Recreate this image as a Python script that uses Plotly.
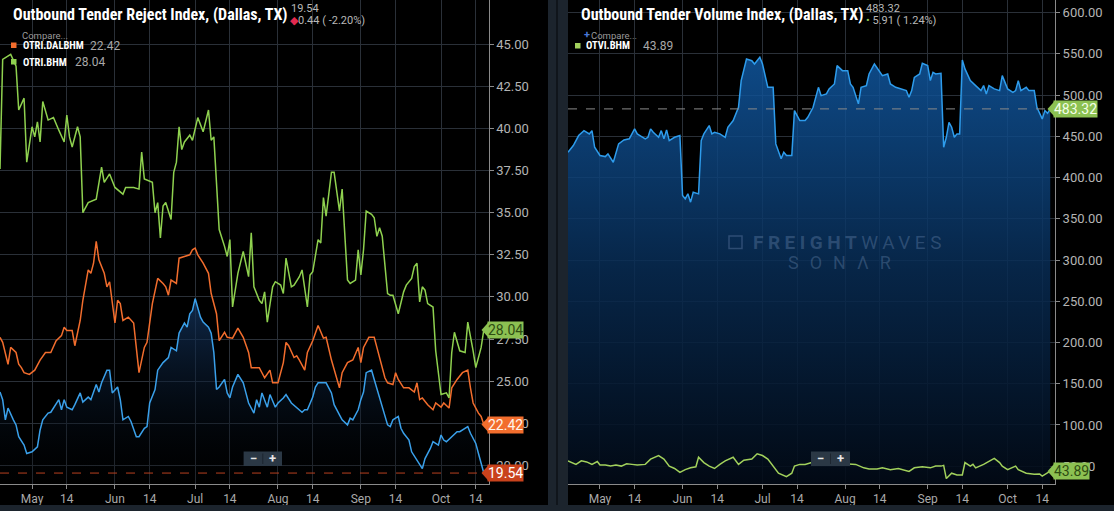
import plotly.graph_objects as go
import pandas as pd

YEAR = "2019-"

# ---------------- Left chart: Outbound Tender Reject Index (Dallas, TX) ----------------
otri_dates = ["04-19","04-20","04-21","04-22","04-24","04-25","04-26","04-28","04-29","05-01",
              "05-03","05-04","05-05","05-07","05-08","05-10","05-11","05-12","05-13","05-14",
              "05-16","05-17","05-19","05-20","05-22","05-23","05-25","05-26","05-27","05-29",
              "05-30","05-31","06-02","06-03","06-04","06-06","06-07","06-09","06-10","06-12",
              "06-13","06-14","06-16","06-17","06-19","06-21","06-22","06-24","06-25","06-27",
              "06-28","06-29","06-30","07-01","07-03","07-04","07-06","07-07","07-08","07-09",
              "07-10","07-12","07-13","07-14","07-15","07-17","07-19","07-20","07-21","07-23",
              "07-24","07-25","07-26","07-28","07-29","07-31","08-01","08-03","08-04","08-06",
              "08-08","08-10","08-11","08-12","08-14","08-15","08-16","08-18","08-19","08-21",
              "08-22","08-24","08-25","08-27","08-28","08-29","08-31","09-01","09-02","09-03",
              "09-05","09-06","09-08","09-09","09-11","09-12","09-13","09-15","09-16","09-17",
              "09-19","09-20","09-22","09-24","09-25","09-26","09-27","09-28","09-30","10-01",
              "10-02","10-03","10-05","10-07","10-08","10-10","10-11","10-12","10-14","10-15",
              "10-16","10-17"]
otri_vals = [24.35,23.9,22.7,23.4,22.7,22.4,21.7,21.2,20.7,20.8,
             21.1,22.1,22.7,23.1,23.15,23.6,23.9,23.3,23.9,23.45,
             23.3,23.6,24.3,23.75,24.05,23.9,24.8,24.35,24.9,25.65,
             25.65,24.3,24.65,23.9,22.7,22.9,22.6,21.7,21.7,22.2,
             22.3,23.7,24.5,25.65,26.1,26.4,27.0,26.8,27.85,28.45,
             28.2,29.0,29.2,29.9,28.8,28.5,28.2,27.85,26.7,24.5,
             24.65,25.1,24.3,24.0,24.65,25.4,24.9,24.3,23.7,23.1,
             23.9,23.45,24.3,23.45,24.2,23.45,23.7,24.0,24.2,23.7,
             23.45,23.15,23.3,23.3,24.05,24.65,24.9,24.9,24.9,24.3,
             23.6,23.0,22.7,22.4,22.8,22.7,23.3,23.9,24.35,25.5,
             25.65,25.1,24.05,23.45,22.4,22.3,22.7,22.9,22.2,21.9,
             21.5,20.8,20.3,19.8,20.4,20.7,21.0,21.4,21.2,21.8,
             21.5,21.4,21.7,22.0,22.0,22.2,22.3,21.9,21.3,20.7,
             20.1,19.54]

dal_bhm_dates = ["04-19","04-20","04-22","04-23","04-25","04-26","04-27","04-28","04-30","05-02",
                 "05-04","05-06","05-08","05-10","05-12","05-13","05-14","05-16","05-17","05-19",
                 "05-20","05-22","05-23","05-24","05-25","05-26","05-28","05-29","05-30","06-01",
                 "06-02","06-03","06-04","06-06","06-08","06-09","06-10","06-12","06-13","06-15",
                 "06-17","06-19","06-20","06-21","06-22","06-24","06-25","06-27","06-29","06-30",
                 "07-01","07-02","07-04","07-06","07-07","07-09","07-10","07-12","07-13","07-15",
                 "07-17","07-19","07-21","07-22","07-24","07-25","07-27","07-29","07-30","08-01",
                 "08-03","08-04","08-05","08-07","08-08","08-09","08-11","08-12","08-14","08-15",
                 "08-16","08-18","08-19","08-21","08-22","08-24","08-25","08-26","08-27","08-29",
                 "08-31","09-01","09-02","09-04","09-06","09-07","09-08","09-10","09-11","09-13",
                 "09-14","09-15","09-17","09-19","09-21","09-22","09-23","09-24","09-26","09-28",
                 "09-29","10-01","10-02","10-04","10-05","10-07","10-09","10-11","10-12","10-13",
                 "10-15","10-16","10-17"]
dal_bhm_vals = [27.6,27.3,26.0,27.0,26.7,26.0,25.8,25.5,25.4,25.65,
                26.25,26.7,26.7,27.4,27.7,28.2,28.0,28.0,27.1,28.6,
                29.8,31.6,31.4,32.0,33.3,32.2,31.4,30.6,30.9,28.45,
                29.8,29.6,28.6,28.8,28.45,27.0,25.5,27.0,27.3,29.6,
                31.1,30.8,30.6,30.1,31.0,30.8,32.3,32.4,32.5,32.8,
                32.9,32.5,32.0,31.4,30.2,29.0,27.4,27.9,27.6,27.55,
                28.15,27.6,26.7,25.8,25.8,25.8,25.2,25.65,24.9,24.9,
                26.1,27.3,27.1,26.4,26.5,26.25,25.65,26.7,27.4,27.9,
                28.3,27.55,27.6,26.25,25.65,24.6,25.5,25.8,26.1,26.25,
                27.0,26.1,27.0,27.6,27.6,27.0,26.4,25.2,24.9,24.8,
                25.5,25.1,24.6,24.6,24.35,24.9,23.9,24.0,23.6,23.3,
                23.7,23.45,23.7,23.4,24.6,25.1,25.5,25.65,24.6,23.7,
                23.1,22.9,22.42]

bhm_dates = ["04-19","04-20","04-23","04-25","04-26","04-28","04-29","05-01","05-02","05-03",
             "05-04","05-05","05-07","05-09","05-11","05-13","05-14","05-15","05-16","05-18",
             "05-19","05-20","05-22","05-25","05-27","05-28","05-30","06-01","06-04","06-05",
             "06-08","06-10","06-11","06-12","06-15","06-16","06-17","06-18","06-19","06-20",
             "06-22","06-23","06-24","06-25","06-26","06-27","06-29","06-30","07-02","07-04",
             "07-06","07-07","07-08","07-09","07-10","07-12","07-13","07-14","07-15","07-17",
             "07-19","07-21","07-22","07-23","07-25","07-26","07-27","07-28","07-30","07-31",
             "08-02","08-03","08-04","08-06","08-07","08-09","08-10","08-12","08-13","08-14",
             "08-16","08-17","08-18","08-19","08-21","08-22","08-24","08-25","08-26","08-27",
             "08-28","08-30","08-31","09-01","09-02","09-03","09-05","09-06","09-07","09-08",
             "09-09","09-11","09-12","09-13","09-15","09-17","09-18","09-20","09-21","09-22",
             "09-23","09-24","09-25","09-26","09-28","09-29","10-01","10-03","10-04","10-05",
             "10-06","10-08","10-10","10-11","10-13","10-14","10-16","10-17"]
bhm_vals = [37.6,44.1,44.4,43.7,41.1,41.8,38.0,40.1,39.5,40.4,
            39.2,41.6,40.5,40.65,39.9,39.2,40.8,39.5,38.9,40.1,
            39.5,35.0,35.6,35.8,37.7,36.8,37.3,36.5,36.1,36.5,
            36.5,36.4,38.6,37.0,36.8,35.0,35.6,33.5,35.4,35.6,
            34.6,37.4,38.0,40.1,38.75,39.2,39.6,39.3,40.65,39.8,
            41.1,39.3,39.5,36.5,34.0,33.0,32.4,33.4,29.4,31.4,
            32.7,31.2,33.8,30.6,29.8,29.6,30.3,28.5,30.6,30.9,
            30.7,30.2,32.3,30.6,30.7,31.2,31.6,29.4,31.3,31.5,
            33.4,33.2,35.9,34.8,37.4,37.4,35.1,36.4,34.0,31.0,
            30.8,31.0,32.8,31.3,32.8,35.1,34.9,34.7,33.6,34.1,
            33.6,30.2,30.1,30.1,29.0,30.3,30.7,31.1,31.8,32.0,
            29.7,30.6,30.4,29.6,29.4,26.8,24.2,24.3,24.0,26.7,
            27.9,26.8,26.7,28.5,26.8,25.8,27.0,28.04]

# ---------------- Right chart: Outbound Tender Volume Index (Dallas, TX) ----------------
otvi_dates = ["04-19","04-21","04-23","04-25","04-27","04-28","04-29","05-01","05-03","05-04",
              "05-06","05-08","05-10","05-12","05-14","05-15","05-16","05-18","05-19","05-20",
              "05-21","05-23","05-24","05-25","05-26","05-27","05-29","05-31","06-01","06-02",
              "06-03","06-04","06-05","06-07","06-08","06-09","06-11","06-12","06-13","06-15",
              "06-17","06-18","06-20","06-22","06-23","06-25","06-27","06-28","06-30","07-01",
              "07-03","07-05","07-06","07-08","07-09","07-10","07-12","07-13","07-15","07-17",
              "07-18","07-20","07-22","07-23","07-25","07-26","07-28","07-29","07-31","08-02",
              "08-03","08-04","08-06","08-07","08-09","08-10","08-12","08-14","08-15","08-17",
              "08-18","08-20","08-22","08-24","08-25","08-26","08-27","08-29","08-30","09-01",
              "09-02","09-03","09-04","09-06","09-07","09-08","09-09","09-10","09-11","09-12",
              "09-13","09-14","09-15","09-17","09-19","09-21","09-22","09-23","09-24","09-26",
              "09-28","09-29","10-01","10-03","10-04","10-05","10-06","10-08","10-09","10-11",
              "10-12","10-14","10-15","10-16","10-17"]
otvi_vals = [430.8,438.9,451.0,457.0,453.0,457.0,436.8,426.8,425.5,428.8,
             418.6,440.9,445.7,447.0,459.1,453.0,451.0,447.0,448.9,459.1,
             455.0,448.9,457.0,447.0,457.9,444.9,448.9,451.0,378.3,374.3,
             380.3,370.2,382.3,380.3,444.9,453.0,463.1,453.0,455.0,453.0,
             448.9,461.1,469.2,485.3,517.6,543.9,541.8,537.8,545.9,537.8,
             509.5,509.5,440.9,422.8,430.8,426.8,426.8,481.3,469.2,469.2,
             473.2,485.3,509.5,499.4,501.5,507.6,513.6,535.8,529.7,529.7,
             513.6,509.5,489.4,509.5,511.6,525.7,537.8,527.7,523.7,525.7,
             513.6,509.5,507.6,505.5,497.4,505.5,521.6,525.7,538.6,535.8,
             517.6,527.7,525.7,526.5,436.8,448.9,467.1,461.1,448.9,453.0,
             453.0,542.7,531.8,517.6,511.6,505.5,511.6,501.5,511.6,507.6,
             505.5,523.7,507.6,503.5,505.5,517.6,505.5,509.5,505.5,505.5,
             485.3,471.2,481.3,478.0,483.32]

otvi_bhm_dates = ["04-19","04-22","04-24","04-26","04-28","04-30","05-01","05-03","05-05","05-07",
                  "05-09","05-11","05-13","05-15","05-18","05-20","05-23","05-25","05-27","05-29",
                  "05-31","06-02","06-04","06-06","06-07","06-09","06-11","06-13","06-15","06-17",
                  "06-20","06-22","06-24","06-27","06-29","07-01","07-03","07-05","07-07","07-10",
                  "07-12","07-13","07-15","07-17","07-21","07-25","07-29","08-01","08-05","08-08",
                  "08-10","08-13","08-15","08-18","08-21","08-23","08-25","08-27","08-30","09-02",
                  "09-04","09-06","09-07","09-08","09-10","09-12","09-14","09-15","09-17","09-18",
                  "09-19","09-22","09-24","09-26","09-28","09-29","10-01","10-04","10-05","10-08",
                  "10-11","10-13","10-14","10-16","10-17"]
otvi_bhm_vals = [56.5,52.2,56.5,55.2,52.2,55.6,51.4,51.4,50.1,51.4,
                 50.1,53.0,52.2,51.4,52.2,58.6,62.9,58.6,50.1,47.2,
                 42.4,45.8,48.0,49.3,60.8,54.4,50.1,47.2,52.2,56.5,
                 60.8,52.2,57.3,58.6,65.0,62.9,58.6,50.1,41.5,37.2,
                 41.5,50.1,52.2,52.2,56.0,58.0,55.0,53.0,52.2,48.0,
                 46.7,46.7,48.0,45.8,47.2,45.8,43.7,48.0,49.3,48.0,
                 50.1,50.1,51.0,35.0,41.5,39.3,39.3,54.4,50.1,52.2,
                 48.0,52.2,55.6,59.5,54.4,50.1,45.8,50.1,45.8,41.5,
                 40.2,40.6,38.0,42.4,43.89]

# axis ticks / labels
x_tick_dates = ["05-01","05-14","06-01","06-14","07-01","07-14","08-01","08-14",
                "09-01","09-14","10-01","10-14"]
x_tick_text = ["May","14","Jun","14","Jul","14","Aug","14","Sep","14","Oct","14"]
left_y_ticks = [20.0, 22.5, 25.0, 27.5, 30.0, 32.5, 35.0, 37.5, 40.0, 42.5, 45.0]
right_y_ticks = [50, 100, 150, 200, 250, 300, 350, 400, 450, 500, 550, 600]

left_title = "Outbound Tender Reject Index, (Dallas, TX)"
right_title = "Outbound Tender Volume Index, (Dallas, TX)"
left_change = "0.44 ( -2.20%)"
right_change = "5.91 ( 1.24%)"

# ------------------------------------------------------------------------------
W, H = 1114, 511
FONT = "Roboto"
NARROW = "Liberation Sans Narrow, Roboto Condensed, Roboto"


def dt(lst):
    return pd.to_datetime([YEAR + s for s in lst])


def px(x):
    return x / W


def py(y):
    return 1 - y / H


BLUE = "#3aa0ea"
ORANGE = "#f26d2d"
GREEN = "#8fd14f"
GREEN2 = "#a2d15c"
GRID = "#2a3038"
AXIS = "#8a8a8a"
TICKFONT = dict(family=FONT, size=13, color="#b4b4b4")

L_YMIN, L_YMAX = 18.89, 47.63
R_YMIN, R_YMAX = 28.4, 615.4
X_START = "2019-04-19 00:00"
X_END = "2019-10-18 19:00"
PLOT_BOTTOM = 484

fig = go.Figure()

# left traces
fig.add_trace(go.Scatter(
    x=dt(otri_dates), y=otri_vals, mode="lines", line=dict(color=BLUE, width=1.5),
    fill="tozeroy",
    fillgradient=dict(type="vertical", start=L_YMIN, stop=max(otri_vals),
                      colorscale=[[0, "rgba(0,0,0,0.2)"], [1, "rgba(20,55,100,0.75)"]]),
    xaxis="x", yaxis="y", hoverinfo="skip"))
fig.add_trace(go.Scatter(x=dt(dal_bhm_dates), y=dal_bhm_vals, mode="lines",
                         line=dict(color=ORANGE, width=1.5), xaxis="x", yaxis="y", hoverinfo="skip"))
fig.add_trace(go.Scatter(x=dt(bhm_dates), y=bhm_vals, mode="lines",
                         line=dict(color=GREEN, width=1.5), xaxis="x", yaxis="y", hoverinfo="skip"))

# right traces
fig.add_trace(go.Scatter(
    x=dt(otvi_dates), y=otvi_vals, mode="lines", line=dict(color="#2e9cec", width=1.5),
    fill="tozeroy",
    fillgradient=dict(type="vertical", start=R_YMIN, stop=550,
                      colorscale=[[0, "rgba(2,10,22,0.9)"], [0.5, "rgba(8,44,84,0.85)"],
                                  [1, "rgba(17,90,165,0.82)"]]),
    xaxis="x2", yaxis="y2", hoverinfo="skip"))
fig.add_trace(go.Scatter(x=dt(otvi_bhm_dates), y=otvi_bhm_vals, mode="lines",
                         line=dict(color=GREEN2, width=1.5), xaxis="x2", yaxis="y2", hoverinfo="skip"))

xt = dt(x_tick_dates)
common_x = dict(range=[X_START, X_END], tickvals=xt, ticktext=x_tick_text, showgrid=True,
                gridcolor=GRID, gridwidth=1, showline=True, linecolor=AXIS, linewidth=1,
                ticks="outside", ticklen=4, tickcolor=AXIS,
                tickfont=dict(family=FONT, size=12, color="#aaaaaa"), zeroline=False, fixedrange=True)
ydom = [(H - PLOT_BOTTOM) / H, 1]

fig.update_layout(
    width=W, height=H, margin=dict(l=0, r=0, t=0, b=0),
    paper_bgcolor="#000000", plot_bgcolor="#000000", showlegend=False,
    xaxis=dict(domain=[0, px(488.6)], anchor="y", **common_x),
    xaxis2=dict(domain=[px(568), px(1055)], anchor="y2", **common_x),
    yaxis=dict(domain=ydom, anchor="x", side="right", range=[L_YMIN, L_YMAX],
               tickvals=left_y_ticks, ticktext=[f"{v:.2f}" for v in left_y_ticks],
               showgrid=True, gridcolor=GRID, showline=True, linecolor=AXIS, ticks="outside",
               ticklen=4, tickcolor=AXIS, tickfont=TICKFONT, zeroline=False, fixedrange=True),
    yaxis2=dict(domain=ydom, anchor="x2", side="right", range=[R_YMIN, R_YMAX],
                tickvals=right_y_ticks, ticktext=[f"{v:.2f}" for v in right_y_ticks],
                showgrid=True, gridcolor=GRID, showline=True, linecolor=AXIS, ticks="outside",
                ticklen=4, tickcolor=AXIS, tickfont=TICKFONT, zeroline=False, fixedrange=True),
)

shapes = []
annotations = []


def ann(text, x, y, size, color, bold=False, family=FONT, xanchor="left", yanchor="middle", **kw):
    annotations.append(dict(text=text, x=px(x), y=py(y), xref="paper", yref="paper",
                            showarrow=False, xanchor=xanchor, yanchor=yanchor,
                            font=dict(family=family, size=size, color=color,
                                      weight="bold" if bold else "normal"), **kw))


# panel separator and bottom strip
shapes.append(dict(type="rect", xref="paper", yref="paper", x0=px(548), x1=px(568), y0=0, y1=1,
                   fillcolor="#1c242d", line=dict(width=0), layer="above"))
shapes.append(dict(type="rect", xref="paper", yref="paper", x0=px(556), x1=px(558), y0=0, y1=1,
                   fillcolor="#10151b", line=dict(width=0), layer="above"))
shapes.append(dict(type="rect", xref="paper", yref="paper", x0=0, x1=1, y0=0, y1=py(505),
                   fillcolor="#1c242d", line=dict(width=0), layer="above"))

# last-value dashed lines
shapes.append(dict(type="line", xref="x", yref="y", x0=X_START, x1=X_END,
                   y0=otri_vals[-1], y1=otri_vals[-1], line=dict(color="#b8401f", width=1, dash="dash"),
                   layer="above"))
shapes.append(dict(type="line", xref="x2", yref="y2", x0=X_START, x1=X_END,
                   y0=otvi_vals[-1], y1=otvi_vals[-1], line=dict(color="#8a8a8a", width=1, dash="dash"),
                   layer="above"))


def tag(value, yref, tip_x, box_x, color, text_color, px_per_unit):
    h = 7.2 / px_per_unit
    shapes.append(dict(type="path", xref="paper", yref=yref,
                       path=f"M {px(tip_x)},{value} L {px(box_x + 1)},{value + h} L {px(box_x + 1)},{value - h} Z",
                       fillcolor=color, line=dict(width=0), layer="above"))
    annotations.append(dict(text=f"{value:.2f}", x=px(box_x), y=value, xref="paper", yref=yref,
                            showarrow=False, xanchor="left", yanchor="middle", bgcolor=color,
                            borderpad=0, font=dict(family=FONT, size=14, color=text_color)))


L_PPU = (PLOT_BOTTOM) / (L_YMAX - L_YMIN)
R_PPU = (PLOT_BOTTOM) / (R_YMAX - R_YMIN)
tag(bhm_vals[-1], "y", 481.5, 487, "#8cc152", "#2f4d12", L_PPU)
tag(dal_bhm_vals[-1], "y", 481.5, 487, "#f26d2d", "#fff3ea", L_PPU)
tag(otri_vals[-1], "y", 481.5, 487, "#c9421c", "#ffffff", L_PPU)
tag(otvi_vals[-1], "y2", 1047.5, 1053, "#8cc152", "#f4ffe8", R_PPU)
tag(otvi_bhm_vals[-1], "y2", 1047.5, 1053, "#8cc152", "#2f4d12", R_PPU)

# titles and headers
ann(left_title, 11, 14, 16, "#ffffff", bold=True, family=NARROW)
ann(f"{otri_vals[-1]:.2f}", 289, 9, 11, "#b8b8b8")
ann(f'<span style="color:#e3294f">◆</span>{left_change}', 288, 20.5, 11, "#b8b8b8")
ann(right_title, 579, 14, 16, "#ffffff", bold=True, family=NARROW)
ann(f"{otvi_vals[-1]:.2f}", 864, 9, 11, "#b8b8b8")
ann(f'<span style="color:#8cc152">•</span> {right_change}', 864, 20.5, 11, "#b8b8b8")

# legends
ann("Compare...", 20, 35, 9.5, "#9a9a9a")
shapes.append(dict(type="rect", xref="paper", yref="paper", x0=px(11), x1=px(16.5), y0=py(48), y1=py(42.5),
                   fillcolor=ORANGE, line=dict(width=0), layer="above"))
ann("OTRI.DALBHM", 20.5, 45.5, 10.5, "#ffffff", bold=True, family=NARROW)
ann(f"{dal_bhm_vals[-1]:.2f}", 88, 45.5, 12, "#a8a8a8")
shapes.append(dict(type="rect", xref="paper", yref="paper", x0=px(11), x1=px(16.5), y0=py(64.5), y1=py(59),
                   fillcolor=GREEN, line=dict(width=0), layer="above"))
ann("OTRI.BHM", 20.5, 62, 10.5, "#ffffff", bold=True, family=NARROW)
ann(f"{bhm_vals[-1]:.2f}", 72.5, 62, 12, "#a8a8a8")

ann("+", 582, 34, 11, "#4a78d8", bold=True)
ann("Compare...", 589, 35, 9.5, "#9a9a9a")
shapes.append(dict(type="rect", xref="paper", yref="paper", x0=px(575), x1=px(580.5), y0=py(48.5), y1=py(43),
                   fillcolor=GREEN2, line=dict(width=0), layer="above"))
ann("OTVI.BHM", 583.5, 45.5, 10.5, "#ffffff", bold=True, family=NARROW)
ann(f"{otvi_bhm_vals[-1]:.2f}", 641, 45.5, 12, "#a8a8a8")

# zoom control boxes
for (x0, x1) in [(243.6, 282), (811, 850)]:
    shapes.append(dict(type="rect", xref="paper", yref="paper", x0=px(x0), x1=px(x1),
                       y0=py(466), y1=py(451.5), fillcolor="#2b3845", line=dict(width=0), layer="above"))
    mid = (x0 + x1) / 2
    shapes.append(dict(type="line", xref="paper", yref="paper", x0=px(mid), x1=px(mid),
                       y0=py(464), y1=py(453.5), line=dict(color="#1d2630", width=1), layer="above"))
    ann("−", (x0 + mid) / 2, 458.5, 13, "#e6e6e6", bold=True, xanchor="center")
    ann("+", (mid + x1) / 2, 458.5, 13, "#e6e6e6", bold=True, xanchor="center")

# watermark (logo icon + wordmark)
WM = "rgba(120,150,190,0.33)"
shapes.append(dict(type="rect", xref="paper", yref="paper", x0=px(729), x1=px(742), y0=py(248.5), y1=py(236),
                   fillcolor="rgba(0,0,0,0)", line=dict(color=WM, width=1.5), layer="above"))
ann('<span style="letter-spacing:4.5px"><b>FREIGHT</b>WAVES</span>', 849, 242, 19, WM,
    family="Roboto", xanchor="center")
ann('<span style="letter-spacing:11px">SONΛR</span>', 845, 262, 18, WM,
    family="Roboto", xanchor="center")

fig.update_layout(shapes=shapes, annotations=annotations)
fig.write_html("out.html", config={"displayModeBar": False, "staticPlot": True},
               post_script="document.body.style.margin='0';document.body.style.overflow='hidden';")
